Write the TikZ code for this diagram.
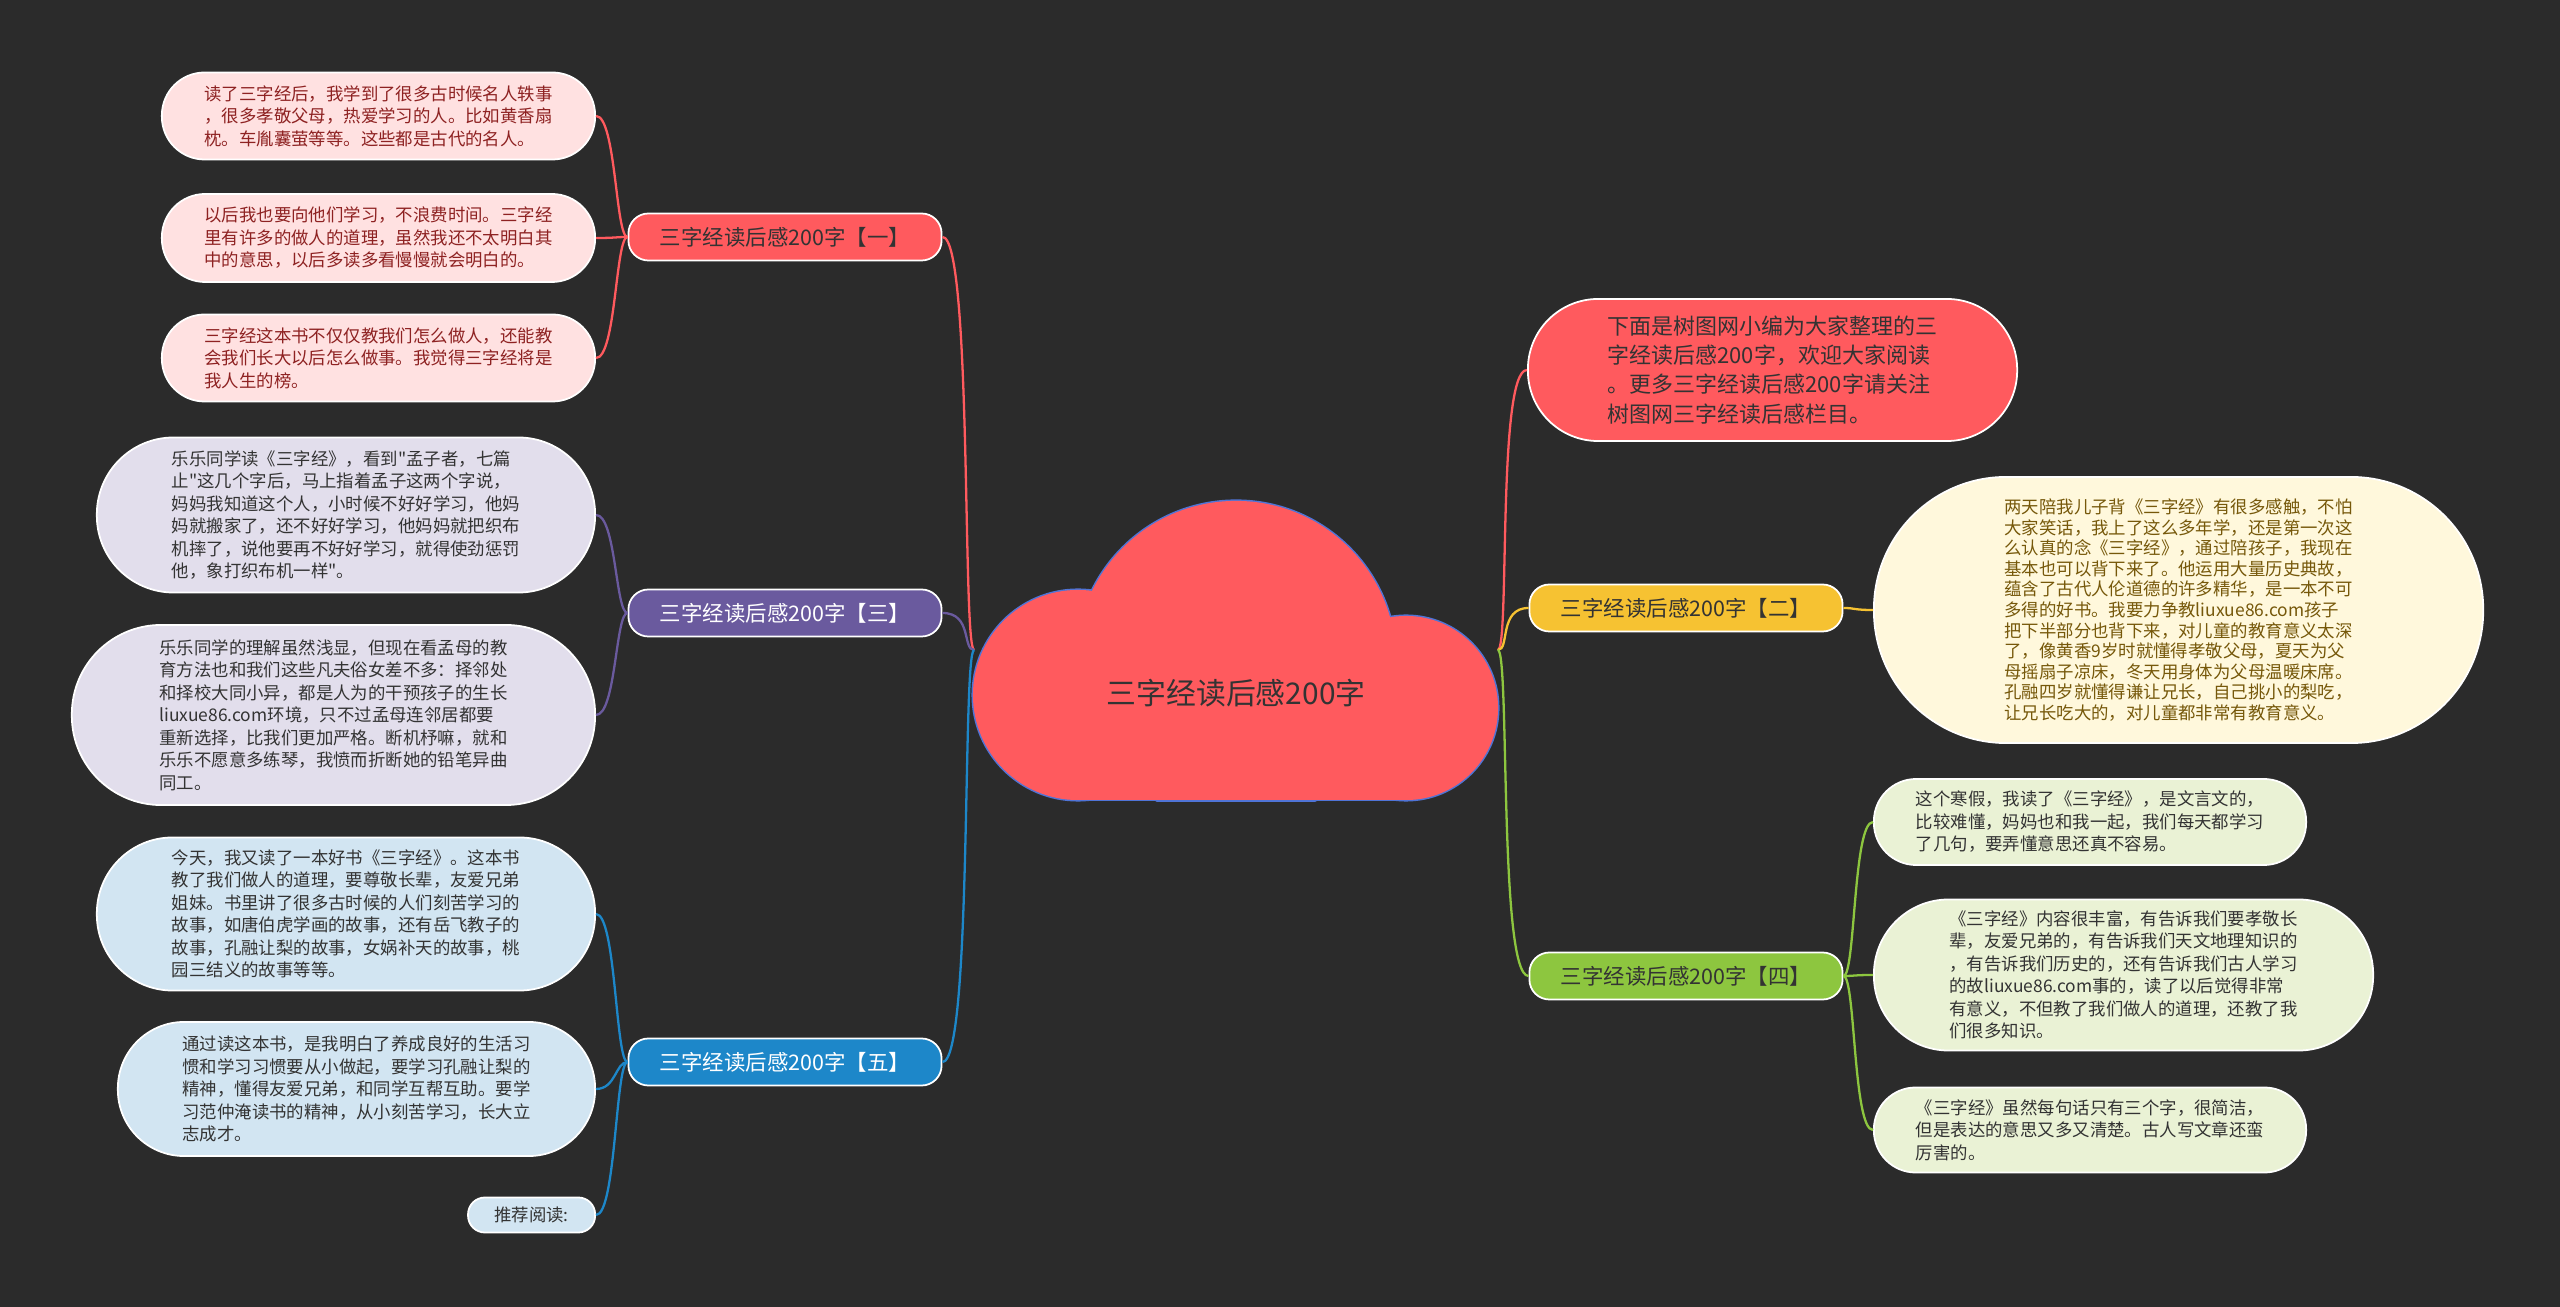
\documentclass[tikz,border=0pt]{standalone}
\usepackage{fontspec}
\setmainfont{Noto Sans CJK SC}[Ligatures=TeXOff]
\usetikzlibrary{positioning}

\definecolor{bgdark}{HTML}{2B2B2B}
\definecolor{darktext}{HTML}{333333}
\definecolor{cloudred}{HTML}{FF5A5E}
\definecolor{cloudedge}{HTML}{4F74D6}
\definecolor{redmain}{HTML}{FF5A5E}
\definecolor{purplemain}{HTML}{6A5A9E}
\definecolor{bluemain}{HTML}{1D87C9}
\definecolor{yellowmain}{HTML}{F6C232}
\definecolor{greenmain}{HTML}{8DC63F}
\definecolor{pinkleaf}{HTML}{FFE1E1}
\definecolor{pinktext}{HTML}{8E2222}
\definecolor{purpleleaf}{HTML}{E2DEEC}
\definecolor{blueleaf}{HTML}{D2E5F2}
\definecolor{yellowleaf}{HTML}{FFF8DC}
\definecolor{yellowtext}{HTML}{76580A}
\definecolor{greenleaf}{HTML}{EAF2D5}

\tikzset{
  leaf/.style={rectangle, draw=white, line width=0.5pt, inner sep=0pt,
    align=left, text=darktext, font=\fontsize{4.95pt}{6.4pt}\selectfont},
  pill/.style 2 args={minimum width=#1, minimum height=#2, rounded corners=#2/2-0.2pt},
  branch/.style={rectangle, rounded corners=0.2cm, draw=white, line width=0.5pt,
    minimum width=3.13cm, minimum height=0.47cm, inner sep=0pt,
    font=\fontsize{6.1pt}{7pt}\selectfont},
  rootcloud/.style={minimum width=5.22cm, minimum height=2.99cm, text height=1.1cm,
    text depth=0.02cm, inner sep=0pt, text=darktext, font=\fontsize{8.5pt}{10pt}\selectfont},
  link/.style={line width=0.65pt}
}

\begin{document}
\begin{tikzpicture}[x=0.01cm,y=-0.01cm]
	\fill[bgdark] (0,0) rectangle (2560,1307);
	% cloud
	\begin{scope}
		\clip (900,480) rectangle (1600,801.5);
		\fill[cloudedge] (1078,695) circle[radius=1.065cm];
		\fill[cloudedge] (1236,661) circle[radius=1.615cm];
		\fill[cloudedge] (1406,708) circle[radius=0.935cm];
		\fill[cloudedge] (1076.5,658.5) rectangle (1407.5,801.5);
	\end{scope}
	\begin{scope}
		\clip (900,480) rectangle (1600,800);
		\fill[cloudred] (1078,695) circle[radius=1.05cm];
		\fill[cloudred] (1236,661) circle[radius=1.6cm];
		\fill[cloudred] (1406,708) circle[radius=0.92cm];
		\fill[cloudred] (1078,660) rectangle (1406,800);
	\end{scope}
	\node[rootcloud] (root) at (1236,650) {三字经读后感200字};

	% branches
	\node[branch, fill=redmain, text=darktext] (b1) at (785,237) {三字经读后感200字【一】};
	\node[branch, fill=purplemain, text=white] (b3) at (785,613) {三字经读后感200字【三】};
	\node[branch, fill=bluemain, text=white] (b5) at (785,1062) {三字经读后感200字【五】};
	\node[branch, fill=yellowmain, text=darktext] (b2) at (1686,608) {三字经读后感200字【二】};
	\node[branch, fill=greenmain, text=darktext] (b4) at (1686,976) {三字经读后感200字【四】};

	% left leaves
	\node[leaf, fill=pinkleaf, text=pinktext, pill={4.33cm}{0.87cm}, anchor=east] (l1) at (596,116)
		{读了三字经后，我学到了很多古时候名人轶事\\，很多孝敬父母，热爱学习的人。比如黄香扇\\枕。车胤囊萤等等。这些都是古代的名人。};
	\node[leaf, fill=pinkleaf, text=pinktext, pill={4.33cm}{0.88cm}, anchor=east] (l2) at (596,238)
		{以后我也要向他们学习，不浪费时间。三字经\\里有许多的做人的道理，虽然我还不太明白其\\中的意思，以后多读多看慢慢就会明白的。};
	\node[leaf, fill=pinkleaf, text=pinktext, pill={4.33cm}{0.87cm}, anchor=east] (l3) at (596,358)
		{三字经这本书不仅仅教我们怎么做人，还能教\\会我们长大以后怎么做事。我觉得三字经将是\\我人生的榜。};
	\node[leaf, fill=purpleleaf, pill={4.98cm}{1.55cm}, anchor=east] (l4) at (596,515)
		{乐乐同学读《三字经》，看到"孟子者，七篇\\止"这几个字后，马上指着孟子这两个字说，\\妈妈我知道这个人，小时候不好好学习，他妈\\妈就搬家了，还不好好学习，他妈妈就把织布\\机摔了，说他要再不好好学习，就得使劲惩罚\\他，象打织布机一样"。};
	\node[leaf, fill=purpleleaf, pill={5.23cm}{1.8cm}, anchor=east] (l5) at (596,715)
		{乐乐同学的理解虽然浅显，但现在看孟母的教\\育方法也和我们这些凡夫俗女差不多：择邻处\\和择校大同小异，都是人为的干预孩子的生长\\liuxue86.com环境，只不过孟母连邻居都要\\重新选择，比我们更加严格。断机杼嘛，就和\\乐乐不愿意多练琴，我愤而折断她的铅笔异曲\\同工。};
	\node[leaf, fill=blueleaf, pill={4.98cm}{1.53cm}, anchor=east] (l6) at (596,914)
		{今天，我又读了一本好书《三字经》。这本书\\教了我们做人的道理，要尊敬长辈，友爱兄弟\\姐妹。书里讲了很多古时候的人们刻苦学习的\\故事，如唐伯虎学画的故事，还有岳飞教子的\\故事，孔融让梨的故事，女娲补天的故事，桃\\园三结义的故事等等。};
	\node[leaf, fill=blueleaf, pill={4.77cm}{1.34cm}, anchor=east] (l7) at (596,1089)
		{通过读这本书，是我明白了养成良好的生活习\\惯和学习习惯要从小做起，要学习孔融让梨的\\精神，懂得友爱兄弟，和同学互帮互助。要学\\习范仲淹读书的精神，从小刻苦学习，长大立\\志成才。};
	\node[leaf, fill=blueleaf, pill={1.27cm}{0.35cm}, anchor=east] (l8) at (596,1215) {推荐阅读:};

	% right leaves
	\node[leaf, fill=redmain, pill={4.89cm}{1.42cm}, anchor=west,
		font=\fontsize{6.25pt}{8.3pt}\selectfont] (tr) at (1527,370)
		{下面是树图网小编为大家整理的三\\字经读后感200字，欢迎大家阅读\\。更多三字经读后感200字请关注\\树图网三字经读后感栏目。};
	\node[leaf, fill=yellowleaf, text=yellowtext, pill={6.09cm}{2.66cm}, anchor=west,
		font=\fontsize{4.95pt}{5.85pt}\selectfont] (r1) at (1873,610)
		{两天陪我儿子背《三字经》有很多感触，不怕\\大家笑话，我上了这么多年学，还是第一次这\\么认真的念《三字经》，通过陪孩子，我现在\\基本也可以背下来了。他运用大量历史典故，\\蕴含了古代人伦道德的许多精华，是一本不可\\多得的好书。我要力争教liuxue86.com孩子\\把下半部分也背下来，对儿童的教育意义太深\\了，像黄香9岁时就懂得孝敬父母，夏天为父\\母摇扇子凉床，冬天用身体为父母温暖床席。\\孔融四岁就懂得谦让兄长，自己挑小的梨吃，\\让兄长吃大的，对儿童都非常有教育意义。};
	\node[leaf, fill=greenleaf, pill={4.32cm}{0.86cm}, anchor=west] (r2) at (1873,822)
		{这个寒假，我读了《三字经》，是文言文的，\\比较难懂，妈妈也和我一起，我们每天都学习\\了几句，要弄懂意思还真不容易。};
	\node[leaf, fill=greenleaf, pill={4.99cm}{1.51cm}, anchor=west] (r3) at (1873,975)
		{《三字经》内容很丰富，有告诉我们要孝敬长\\辈，友爱兄弟的，有告诉我们天文地理知识的\\，有告诉我们历史的，还有告诉我们古人学习\\的故liuxue86.com事的，读了以后觉得非常\\有意义，不但教了我们做人的道理，还教了我\\们很多知识。};
	\node[leaf, fill=greenleaf, pill={4.32cm}{0.85cm}, anchor=west] (r4) at (1873,1130)
		{《三字经》虽然每句话只有三个字，很简洁，\\但是表达的意思又多又清楚。古人写文章还蛮\\厉害的。};

	% root links
	\draw[link, redmain] (root.west) .. controls +(-12,0) and +(30,0) .. (b1.east);
	\draw[link, purplemain] (root.west) .. controls +(-12,0) and +(30,0) .. (b3.east);
	\draw[link, bluemain] (root.west) .. controls +(-12,0) and +(30,0) .. (b5.east);
	\draw[link, redmain] (root.east) .. controls +(12,0) and +(-30,0) .. (tr.west);
	\draw[link, yellowmain] (root.east) .. controls +(12,0) and +(-30,0) .. (b2.west);
	\draw[link, greenmain] (root.east) .. controls +(12,0) and +(-30,0) .. (b4.west);

	% leaf links
	\foreach \l in {l1,l2,l3}
		\draw[link, redmain] (b1.west) .. controls +(-12,0) and +(20,0) .. (\l.east);
	\foreach \l in {l4,l5}
		\draw[link, purplemain] (b3.west) .. controls +(-12,0) and +(20,0) .. (\l.east);
	\foreach \l in {l6,l7,l8}
		\draw[link, bluemain] (b5.west) .. controls +(-12,0) and +(20,0) .. (\l.east);
	\draw[link, yellowmain] (b2.east) .. controls +(12,0) and +(-20,0) .. (r1.west);
	\foreach \r in {r2,r3,r4}
		\draw[link, greenmain] (b4.east) .. controls +(12,0) and +(-20,0) .. (\r.west);
\end{tikzpicture}
\end{document}
